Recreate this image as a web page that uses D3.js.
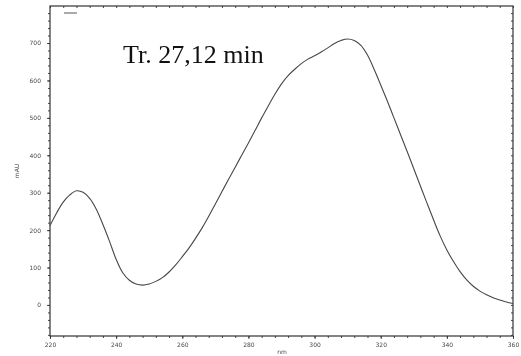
<!DOCTYPE html>
<html>
<head>
<meta charset="utf-8">
<script src="https://cdn.jsdelivr.net/npm/d3@7"></script>
<style>
  html, body { margin: 0; padding: 0; background: #fff; }
  svg { display: block; }
  .axis-text { opacity: 0.98; will-change: transform; }
</style>
</head>
<body>
<svg id="chart" width="521" height="356"></svg>
<script>
// UV absorbance spectrum of the peak eluting at 27.12 min
const wavelengths = [220, 222, 224, 226, 228, 230, 232, 234, 236, 238, 240, 242, 244, 246, 248, 250,
  252, 254, 256, 258, 260, 262, 264, 266, 268, 270, 272, 274, 276, 278, 280, 282, 284, 286, 288, 290,
  292, 294, 296, 298, 300, 302, 304, 306, 308, 310, 312, 314, 316, 318, 320, 322, 324, 326, 328, 330,
  332, 334, 336, 338, 340, 342, 344, 346, 348, 350, 352, 354, 356, 358, 360];
const absorbance = [212, 246, 275, 294, 305, 301, 285, 256, 215, 170, 122, 86, 66, 56, 53, 56,
  63, 73, 88, 107, 129, 152, 178, 206, 237, 270, 303, 336, 368, 401, 433, 466, 500, 532, 563, 591,
  613, 630, 645, 657, 666, 676, 687, 699, 707, 711, 707, 694, 668, 630, 588, 545, 500, 455, 410, 364,
  318, 272, 227, 184, 147, 116, 89, 67, 50, 37, 27, 19, 13, 8, 4];
const xTickValues = [220, 240, 260, 280, 300, 320, 340, 360];
const yTickValues = [0, 100, 200, 300, 400, 500, 600, 700];
const titleText = "Tr. 27,12 min";
const xLabel = "nm";
const yLabel = "mAU";

const svg = d3.select("#chart");
const plotLeft = 50, plotRight = 513, plotTop = 6, plotBottom = 336;

const x = d3.scaleLinear().domain([220, 360]).range([plotLeft, plotRight]);
const y = d3.scaleLinear().domain([-83, 799]).range([plotBottom, plotTop]);

const ink = "#333";
const labelInk = "#444";

// frame
svg.append("rect")
  .attr("x", plotLeft).attr("y", plotTop)
  .attr("width", plotRight - plotLeft).attr("height", plotBottom - plotTop)
  .attr("fill", "none").attr("stroke", ink).attr("stroke-width", 1.2);

// minor ticks
const xMinor = d3.range(220, 361, 4);
const yMinor = d3.range(-80, 800, 20);

function styleAxis(g) {
  g.select(".domain").remove();
  g.selectAll(".tick line").attr("stroke", ink).attr("stroke-width", 0.9);
  g.selectAll(".tick text")
    .style("fill", labelInk)
    .style("font-family", "DejaVu Sans, sans-serif").style("font-size", "6px");
}

svg.append("g").attr("transform", `translate(0,${plotBottom})`)
  .call(d3.axisBottom(x).tickValues(xMinor).tickSize(2).tickFormat(""))
  .call(styleAxis);
svg.append("g").attr("class", "axis-text").attr("transform", `translate(0,${plotBottom})`)
  .call(d3.axisBottom(x).tickValues(xTickValues).tickSize(3).tickPadding(4).tickFormat(d3.format("d")))
  .call(styleAxis);

svg.append("g").attr("transform", `translate(${plotLeft},0)`)
  .call(d3.axisLeft(y).tickValues(yMinor).tickSize(2).tickFormat(""))
  .call(styleAxis);
svg.append("g").attr("class", "axis-text").attr("transform", `translate(${plotLeft},0)`)
  .call(d3.axisLeft(y).tickValues(yTickValues).tickSize(3).tickPadding(6).tickFormat(d3.format("d")))
  .call(styleAxis);

// ticks along the top and right edges
svg.append("g").attr("transform", `translate(0,${plotTop})`)
  .call(d3.axisBottom(x).tickValues(xMinor).tickSize(2).tickFormat(""))
  .call(styleAxis);
svg.append("g").attr("transform", `translate(${plotRight},0)`)
  .call(d3.axisLeft(y).tickValues(yMinor).tickSize(2).tickFormat(""))
  .call(styleAxis);

// axis titles
const titles = svg.append("g").attr("class", "axis-text");
titles.append("text")
  .attr("x", 282).attr("y", 354)
  .attr("text-anchor", "middle")
  .style("fill", labelInk)
  .style("font-family", "DejaVu Sans, sans-serif").style("font-size", "6px")
  .text(xLabel);
titles.append("text")
  .attr("transform", "translate(19,171) rotate(-90)")
  .attr("text-anchor", "middle")
  .style("fill", labelInk)
  .style("font-family", "DejaVu Sans, sans-serif").style("font-size", "6px")
  .text(yLabel);

// legend marker
svg.append("line")
  .attr("x1", 64).attr("x2", 77).attr("y1", 13).attr("y2", 13)
  .attr("stroke", "#555").attr("stroke-width", 1);

// spectrum
const pts = wavelengths.map((w, i) => [w, absorbance[i]]);
svg.append("path")
  .datum(pts)
  .attr("fill", "none")
  .attr("stroke", "#474747")
  .attr("stroke-width", 1.1)
  .attr("d", d3.line().x(d => x(d[0])).y(d => y(d[1])).curve(d3.curveCatmullRom.alpha(0.5)));

// retention time title
svg.append("text")
  .attr("x", 123).attr("y", 63)
  .attr("fill", "#111")
  .style("font-family", "Liberation Serif, Times New Roman, serif")
  .style("font-size", "26px")
  .text(titleText);
</script>
</body>
</html>
